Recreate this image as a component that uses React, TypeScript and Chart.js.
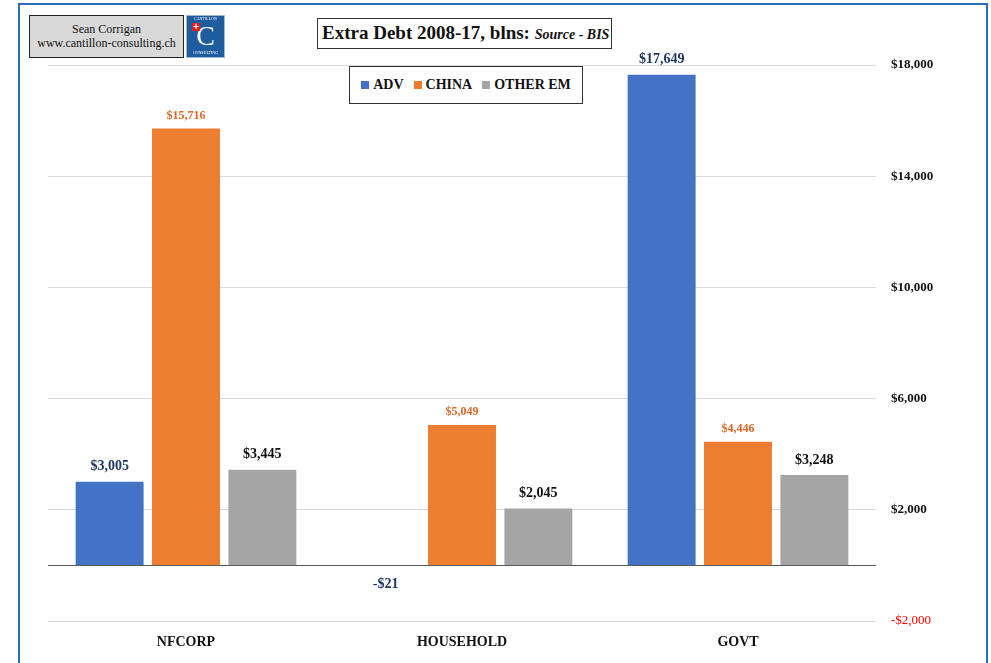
import React, { useEffect, useRef } from "react";
import Chart from "chart.js/auto";

const categories = ["NFCORP", "HOUSEHOLD", "GOVT"];
const seriesNames = ["ADV", "CHINA", "OTHER EM"];
const advValues = [3005, -21, 17649];
const chinaValues = [15716, 5049, 4446];
const otherEmValues = [3445, 2045, 3248];
const yMin = -2000;
const yMax = 18000;
const yStep = 4000;

const FONT = "'Liberation Serif', 'Times New Roman', serif";
const seriesColors = ["#4472C4", "#ED7D31", "#A5A5A5"];
const labelColors = ["#1F3864", "#E0652B", "#111111"];
const labelFonts = [`bold 14px ${FONT}`, `bold 12px ${FONT}`, `bold 14px ${FONT}`];

const fmt = (v: number) => (v < 0 ? "-$" : "$") + Math.abs(v).toLocaleString("en-US");

const dataLabelPlugin = {
  id: "dataLabels",
  afterDatasetsDraw(chart: any) {
    const ctx = chart.ctx;
    chart.data.datasets.forEach((ds: any, i: number) => {
      const meta = chart.getDatasetMeta(i);
      meta.data.forEach((bar: any, j: number) => {
        const v = ds.data[j];
        ctx.save();
        ctx.font = labelFonts[i];
        ctx.fillStyle = labelColors[i];
        ctx.textAlign = "center";
        ctx.textBaseline = "middle";
        const off = i === 1 ? 13 : 15;
        const y = v >= 0 ? bar.y - off : bar.base + 18;
        ctx.fillText(fmt(v), bar.x, y);
        ctx.restore();
      });
    });
  },
};

export default function App() {
  const ref = useRef<HTMLCanvasElement>(null);
  useEffect(() => {
    const chart = new Chart(ref.current!, {
      type: "bar",
      data: {
        labels: categories,
        datasets: [advValues, chinaValues, otherEmValues].map((d, i) => ({
          label: seriesNames[i],
          data: d,
          backgroundColor: seriesColors[i],
          borderWidth: 0,
          categoryPercentage: 0.83,
          barPercentage: 0.89,
        })),
      },
      options: {
        responsive: false,
        animation: false,
        layout: { padding: { left: 48, top: 65, right: 0, bottom: 0 } },
        plugins: { legend: { display: false }, tooltip: { enabled: false }, title: { display: false } },
        scales: {
          x: {
            position: "bottom",
            grid: { display: false, drawTicks: false },
            border: { display: false },
            ticks: { padding: 13, color: "#111", font: { family: FONT, size: 14, weight: "bold" } },
            afterFit: (s: any) => { s.height = 42; },
          },
          y: {
            position: "right",
            min: yMin,
            max: yMax,
            grid: {
              drawTicks: false,
              color: (c: any) => (c.tick && c.tick.value === 0 ? "#595959" : "#D9D9D9"),
              lineWidth: 1,
            },
            border: { display: false },
            ticks: {
              stepSize: yStep,
              padding: 15,
              callback: (v: any) => (v === 0 ? "" : fmt(Number(v))),
              color: (c: any) => (c.tick && c.tick.value < 0 ? "#FF0000" : "#111"),
              font: (c: any) => ({ family: FONT, size: 13, weight: c.tick && c.tick.value < 0 ? "normal" : "bold" }),
            },
            afterBuildTicks: (s: any) => {
              const t = [];
              for (let v = yMin; v <= yMax; v += yStep) t.push({ value: v });
              t.push({ value: 0 });
              t.sort((a: any, b: any) => a.value - b.value);
              s.ticks = t;
            },
            afterFit: (s: any) => { s.width = 115; },
          },
        },
      },
      plugins: [dataLabelPlugin],
    } as any);
    return () => chart.destroy();
  }, []);

  const abs = (o: any) => ({ position: "absolute", boxSizing: "border-box", ...o });

  return (
    <div style={{ position: "fixed", left: 0, top: 0, width: 991, height: 663, background: "#fff", overflow: "hidden", fontFamily: FONT }}>
      <canvas ref={ref} width={991} height={663} style={{ position: "absolute", left: 0, top: 0 }} />
      <div style={abs({ left: 18, top: 3, width: 970, height: 700, border: "2px solid #2A6EBB" }) as any} />
      <div style={abs({ left: 29, top: 15, width: 155, height: 43, background: "#D9D9D9", border: "1.5px solid #222", textAlign: "center", fontSize: 12, lineHeight: "14px", paddingTop: 6, color: "#111" }) as any}>
        <div>Sean Corrigan</div>
        <div>www.cantillon-consulting.ch</div>
      </div>
      <div style={abs({ left: 186, top: 15, width: 39, height: 43, background: "#1F5C9E", border: "1px solid #9DB7D6", color: "#fff", textAlign: "center", overflow: "hidden" }) as any}>
        <div style={{ fontSize: 4, lineHeight: "6px" }}>CANTILLON</div>
        <div style={{ position: "absolute", left: 5, top: 7, width: 8, height: 8, background: "#E02020", color: "#fff", fontSize: 8, lineHeight: "8px", fontFamily: "DejaVu Sans", fontWeight: "bold" }}>+</div>
        <div style={{ fontSize: 28, lineHeight: "28px", marginTop: 0 }}>C</div>
        <div style={{ fontSize: 4, lineHeight: "6px" }}>CONSULTING</div>
      </div>
      <div style={abs({ left: 317, top: 18, width: 295, height: 31, border: "1.5px solid #333", background: "#fff", whiteSpace: "nowrap", paddingLeft: 4, lineHeight: "28px", color: "#111" }) as any}>
        <span style={{ fontSize: 19, fontWeight: "bold" }}>Extra Debt 2008-17, blns: </span>
        <span style={{ fontSize: 14, fontStyle: "italic", fontWeight: "bold" }}>Source - BIS</span>
      </div>
      <div style={abs({ left: 349, top: 66, width: 234, height: 38, border: "1.5px solid #333", background: "#fff", display: "flex", alignItems: "center", justifyContent: "center", gap: 10, color: "#111", fontSize: 14, fontWeight: "bold", whiteSpace: "nowrap" }) as any}>
        {seriesNames.map((n, i) => (
          <div key={n} style={{ display: "flex", alignItems: "center", gap: 4 }}>
            <span style={{ display: "inline-block", width: 8, height: 8, background: seriesColors[i] }} />
            <span>{n}</span>
          </div>
        ))}
      </div>
    </div>
  );
}
